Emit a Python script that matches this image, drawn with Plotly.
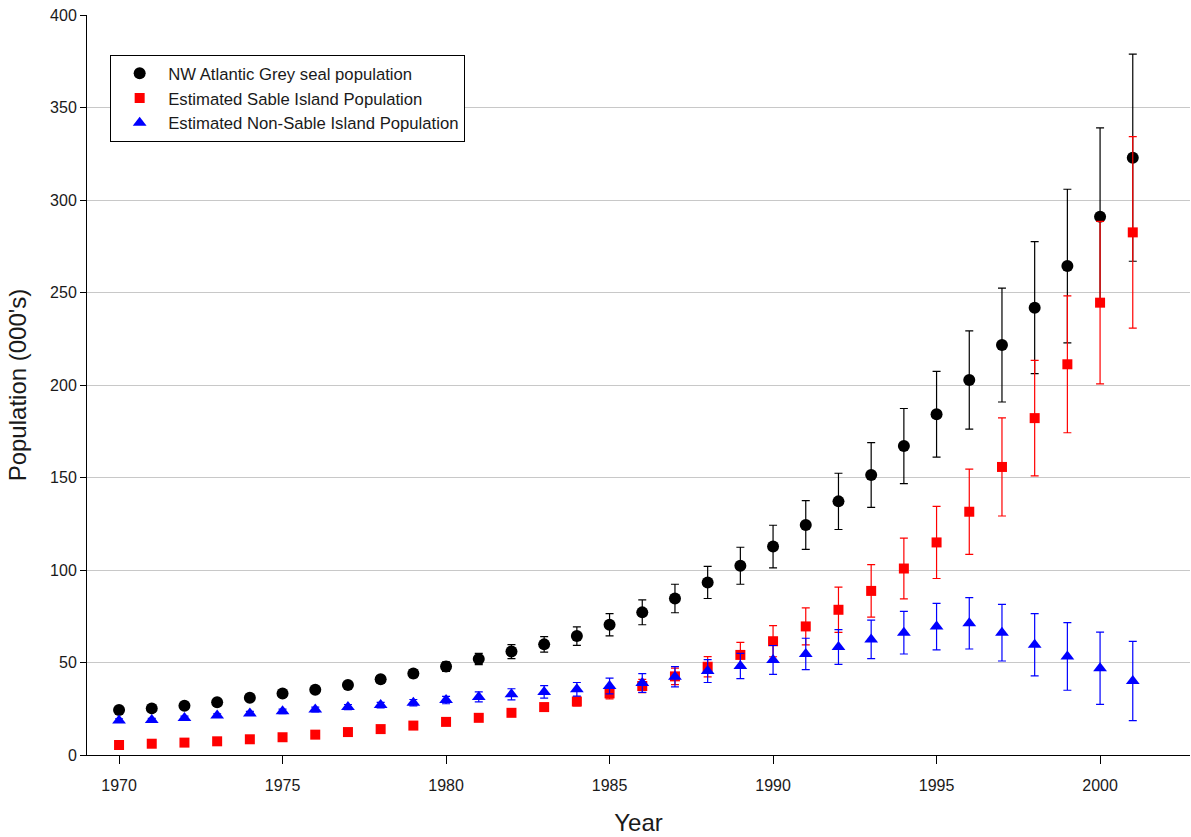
import plotly.graph_objects as go

# Grey seal population estimates (thousands) with uncertainty, 1970-2001
years = list(range(1970, 2002))

nw_atlantic = [24.3, 25.2, 26.6, 28.5, 31.0, 33.2, 35.3, 37.9, 40.9, 44.0, 47.8,
               51.9, 55.9, 59.8, 64.3, 70.4, 77.1, 84.6, 93.3, 102.3, 112.7,
               124.3, 137.1, 151.3, 167.0, 184.2, 202.7, 221.6, 241.8, 264.3,
               291.0, 322.9]
nw_atlantic_err = [1.0, 1.1, 1.2, 1.3, 1.4, 1.5, 1.6, 1.8, 2.0, 2.2, 2.6,
                   3.0, 3.8, 4.2, 5.0, 6.0, 6.7, 7.7, 8.7, 10.0, 11.5,
                   13.2, 15.2, 17.5, 20.3, 23.2, 26.6, 30.8, 35.7, 41.5,
                   48.0, 56.0]

sable = [5.4, 6.1, 6.7, 7.4, 8.5, 9.6, 11.0, 12.4, 14.0, 15.9, 17.9,
         20.1, 22.8, 25.9, 28.9, 33.3, 37.3, 42.5, 47.7, 54.1, 61.5,
         69.5, 78.5, 88.7, 100.8, 114.9, 131.5, 155.7, 182.1, 211.2,
         244.5, 282.5]
sable_err = [0.3, 0.3, 0.4, 0.4, 0.5, 0.6, 0.7, 0.8, 0.9, 1.0, 1.2,
             1.4, 1.7, 2.0, 2.4, 3.0, 3.6, 4.5, 5.5, 6.8, 8.4,
             10.0, 12.2, 14.2, 16.4, 19.5, 23.0, 26.5, 31.2, 37.0,
             43.9, 51.8]

non_sable = [18.7, 18.9, 20.0, 21.3, 22.5, 23.6, 24.6, 25.9, 27.0, 28.3, 29.7,
             31.4, 32.8, 34.1, 35.5, 37.3, 38.9, 42.3, 45.4, 48.1, 51.4,
             54.6, 58.4, 62.5, 66.1, 69.4, 71.2, 66.1, 59.6, 53.3,
             46.9, 40.0]
non_sable_err = [0.9, 0.9, 1.0, 1.0, 1.1, 1.2, 1.3, 1.4, 1.5, 1.7, 2.0,
                 2.7, 3.0, 3.4, 3.7, 4.3, 5.1, 5.5, 6.2, 6.8, 7.8,
                 8.5, 9.4, 10.4, 11.5, 12.6, 13.9, 15.3, 16.8, 18.3,
                 19.5, 21.4]

y_ticks = [0, 50, 100, 150, 200, 250, 300, 350, 400]
x_ticks = [1970, 1975, 1980, 1985, 1990, 1995, 2000]

FONT = "Arial, 'Liberation Sans', sans-serif"
TEXT = "#1a1a1a"


def series(name, values, errors, color, symbol, size):
    return go.Scatter(
        x=years, y=values, name=name, mode="markers",
        marker=dict(color=color, symbol=symbol, size=size, line=dict(width=0)),
        error_y=dict(type="data", array=errors, visible=True,
                     color=color, thickness=1.2, width=4),
    )


fig = go.Figure()
fig.add_trace(series("NW Atlantic Grey seal population", nw_atlantic,
                     nw_atlantic_err, "#000000", "circle", 12))
fig.add_trace(series("Estimated Sable Island Population", sable,
                     sable_err, "#ff0000", "square", 10))
fig.add_trace(series("Estimated Non-Sable Island Population", non_sable,
                     non_sable_err, "#0000ff", "triangle-up", 12))

fig.update_layout(
    width=1191, height=837,
    margin=dict(l=87, r=1, t=15, b=82),
    paper_bgcolor="white", plot_bgcolor="white",
    font=dict(family=FONT, size=16, color=TEXT),
    showlegend=True,
    legend=dict(
        x=0.021, y=0.946, xanchor="left", yanchor="top",
        bgcolor="white", bordercolor="#000000", borderwidth=1,
        font=dict(family=FONT, size=16.7, color=TEXT),
        itemwidth=47, tracegroupgap=0,
    ),
)

fig.update_xaxes(
    range=[1969.02, 2002.75], tickmode="array", tickvals=x_ticks,
    ticks="outside", ticklen=8, tickcolor="#000000", tickwidth=1,
    ticklabelstandoff=8,
    showline=True, linecolor="#000000", linewidth=1,
    showgrid=False, zeroline=False,
    title=dict(text="Year", font=dict(family=FONT, size=24, color=TEXT),
               standoff=20),
    automargin=False,
)
fig.update_yaxes(
    range=[0, 400], tickmode="array", tickvals=y_ticks,
    ticktext=[str(v) for v in y_ticks],
    ticks="outside", ticklen=6, tickcolor="#000000", tickwidth=1,
    showline=True, linecolor="#000000", linewidth=1,
    showgrid=True, gridcolor="#c8c8c8", gridwidth=1,
    zeroline=False,
    title=dict(text="Population (000's)",
               font=dict(family=FONT, size=24, color=TEXT), standoff=16),
    automargin=False,
)

fig.write_html("out.html")
